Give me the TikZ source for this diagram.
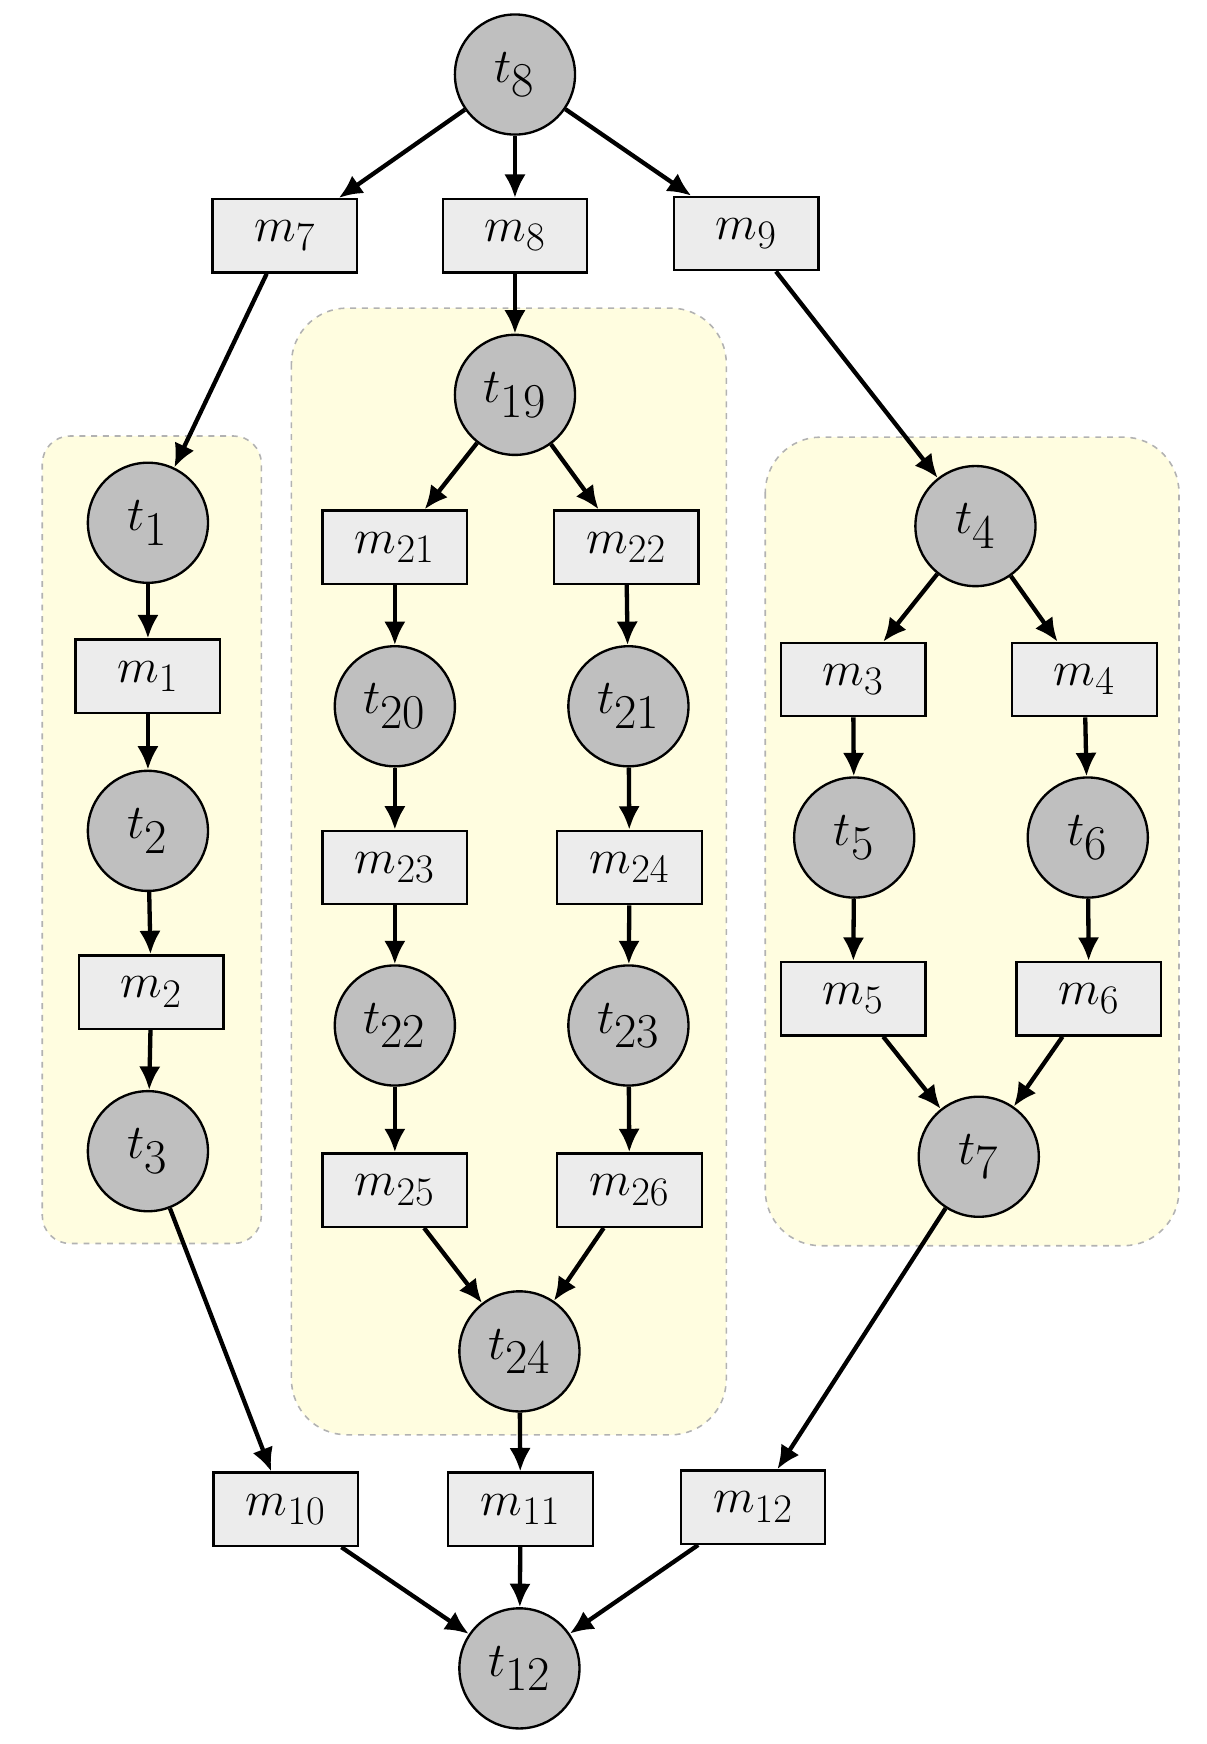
\documentclass[tikz,border=0pt]{standalone}
\usetikzlibrary{arrows.meta}
\begin{document}
\begin{tikzpicture}[x=0.02cm,y=-0.02cm,
 pl/.style={circle,draw,line width=1.2pt,fill=gray!50!white,minimum size=108*0.02cm,inner sep=0pt,font=\fontsize{36}{40}\selectfont},
 tr/.style={rectangle,draw,line width=1.2pt,fill=gray!15,minimum width=130*0.02cm,minimum height=66*0.02cm,inner sep=0pt,font=\fontsize{28}{32}\selectfont},
 grp/.style={draw=gray!60,dashed,line width=0.8pt,fill=yellow!12},
 ar/.style={line width=2.2pt,-{Latex[length=12pt,width=11pt]}}]
\useasboundingbox (0,0) rectangle (1085,1568);
\draw[grp,rounded corners=25*0.02cm] (38,392) rectangle (235,1118);
\draw[grp,rounded corners=50*0.02cm] (262,277) rectangle (653,1290);
\draw[grp,rounded corners=50*0.02cm] (688,393) rectangle (1060,1120);
\node[pl] (t8) at (463,67) {$t_{8}$};
\node[tr] (m7) at (256,212) {$m_{7}$};
\node[tr] (m8) at (463,212) {$m_{8}$};
\node[tr] (m9) at (671,210) {$m_{9}$};
\node[pl] (t19) at (463,355) {$t_{19}$};
\node[pl] (t1) at (133,470) {$t_{1}$};
\node[tr] (m21) at (355,492) {$m_{21}$};
\node[tr] (m22) at (563,492) {$m_{22}$};
\node[pl] (t4) at (877,473) {$t_{4}$};
\node[tr] (m1) at (133,608) {$m_{1}$};
\node[pl] (t20) at (355,635) {$t_{20}$};
\node[pl] (t21) at (565,635) {$t_{21}$};
\node[tr] (m3) at (767,611) {$m_{3}$};
\node[tr] (m4) at (975,611) {$m_{4}$};
\node[pl] (t2) at (133,747) {$t_{2}$};
\node[pl] (t5) at (768,753) {$t_{5}$};
\node[pl] (t6) at (978,753) {$t_{6}$};
\node[tr] (m23) at (355,780) {$m_{23}$};
\node[tr] (m24) at (566,780) {$m_{24}$};
\node[tr] (m2) at (136,892) {$m_{2}$};
\node[tr] (m5) at (767,898) {$m_{5}$};
\node[tr] (m6) at (979,898) {$m_{6}$};
\node[pl] (t22) at (355,922) {$t_{22}$};
\node[pl] (t23) at (565,922) {$t_{23}$};
\node[pl] (t3) at (133,1035) {$t_{3}$};
\node[pl] (t7) at (880,1040) {$t_{7}$};
\node[tr] (m25) at (355,1070) {$m_{25}$};
\node[tr] (m26) at (566,1070) {$m_{26}$};
\node[pl] (t24) at (467,1215) {$t_{24}$};
\node[tr] (m10) at (257,1357) {$m_{10}$};
\node[tr] (m11) at (468,1357) {$m_{11}$};
\node[tr] (m12) at (677,1355) {$m_{12}$};
\node[pl] (t12) at (467,1500) {$t_{12}$};
\foreach \a/\b in {t8/m7,t8/m8,t8/m9,m7/t1,m8/t19,m9/t4,t1/m1,m1/t2,t2/m2,m2/t3,
 t19/m21,t19/m22,m21/t20,m22/t21,t20/m23,t21/m24,m23/t22,m24/t23,t22/m25,t23/m26,m25/t24,m26/t24,
 t4/m3,t4/m4,m3/t5,m4/t6,t5/m5,t6/m6,m5/t7,m6/t7,t3/m10,t24/m11,t7/m12,m10/t12,m11/t12,m12/t12}
 \draw[ar] (\a) -- (\b);
\end{tikzpicture}
\end{document}
